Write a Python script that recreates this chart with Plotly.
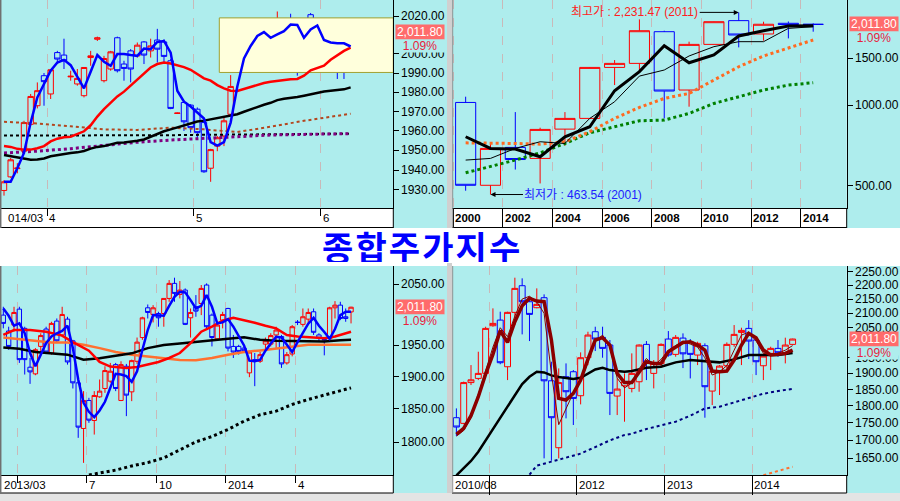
import math
import plotly.graph_objects as go

W, H = 900, 501
CYAN = '#AEEDED'
RED = '#FF0000'
BLUE = '#0000FF'
FONT = 'Liberation Sans, Arial, Noto Sans CJK KR, sans-serif'

# ---------------- Top-left: daily (2014/03 - 2014/06) ----------------
tl_open = [1929.6,1936.5,1940.7,1949.6,1963.4,1973.0,1988.6,1979.1,2000.7,1999.4,1988.0,1984.3,1978.2,1998.1,2007.7,1986.0,1992.1,2008.5,1994.7,2001.6,1999.0,2006.3,2001.6,2007.3,2006.3,1996.4,1969.0,1974.7,1973.3,1971.2,1964.3,1940.9,1952.2,1957.4,1968.6,1990.7,2008.0,2002.8,2013.7,2011.3,2002.8,2015.3,2013.7,2016.0,2015.0,1999.9,2020.7,2015.5,1998.7,2006.0,2006.8,2006.8,2001.1]
tl_high = [1934.8,1946.1,1943.5,1965.2,1979.1,1985.1,1990.0,1992.1,2001.6,2008.0,1991.2,1992.1,1992.9,2001.6,2009.1,1999.0,2001.6,2009.1,1996.4,2002.5,2006.0,2006.8,2008.0,2013.2,2007.7,1997.3,1969.5,1975.6,1973.8,1972.1,1965.2,1950.8,1957.4,1966.9,1988.9,2011.2,2016.0,2013.7,2016.0,2012.0,2009.4,2022.4,2017.7,2021.2,2015.5,2017.7,2021.6,2016.0,2003.3,2009.4,2007.3,2009.1,2012.0]
tl_low = [1927.0,1936.0,1938.3,1948.7,1962.6,1971.6,1973.0,1976.5,1994.7,1992.1,1986.0,1983.4,1977.3,1993.8,2006.8,1985.1,1991.2,1990.3,1986.0,1985.1,1998.1,1994.7,1998.1,1995.5,1995.5,1971.2,1968.8,1960.0,1959.1,1955.6,1938.6,1934.0,1949.6,1952.2,1967.8,1990.3,2006.8,1997.6,2012.9,2004.2,2001.6,2014.6,2012.9,1999.9,1988.6,1998.1,2009.4,1994.7,1995.5,1990.7,1986.9,1986.9,1996.4]
tl_close = [1934.0,1945.2,1941.0,1964.3,1977.8,1980.8,1985.5,1991.7,1997.3,1996.4,1988.3,1987.2,1992.9,1999.0,2008.5,1997.6,2001.1,1991.2,1992.4,1992.1,2004.6,1999.4,2004.2,2002.5,1998.7,1971.6,1969.2,1964.7,1961.7,1959.1,1939.1,1950.4,1956.5,1965.2,1983.0,2010.8,2010.3,2013.2,2015.5,2011.0,2008.5,2015.6,2017.2,2011.2,1997.3,2017.2,2011.2,1995.2,2002.5,2008.5,1995.5,1990.3,2011.8]
tl_ma5 = [1934.0,1934.0,1940.9,1948.7,1964.3,1977.3,1984.3,1991.2,1995.5,1996.9,1994.1,1987.7,1982.0,1990.7,1999.4,1995.9,1993.8,1999.9,1999.9,1999.4,1999.0,2002.8,2002.5,2006.3,2006.8,2000.7,1980.8,1975.1,1972.6,1969.5,1966.4,1954.2,1952.5,1954.2,1964.3,1983.0,1997.6,2004.2,2009.4,2011.5,2008.5,2010.3,2012.0,2015.5,2015.3,2008.5,2012.9,2015.0,2007.3,2006.0,2005.6,2005.6,2003.9]
tl_ma20 = [1952.2,1951.8,1950.8,1950.4,1950.4,1951.1,1952.2,1954.6,1956.0,1956.7,1957.0,1958.4,1959.8,1962.9,1967.4,1971.2,1974.7,1977.8,1980.3,1983.4,1986.9,1990.0,1992.9,1994.7,1995.5,1995.0,1994.1,1993.1,1991.7,1989.5,1987.2,1986.0,1983.7,1982.0,1980.8,1980.6,1981.7,1982.7,1983.7,1984.8,1985.5,1986.0,1986.3,1986.7,1986.9,1988.6,1991.4,1992.4,1993.8,1996.9,1999.4,2001.6,2003.3]
tl_ma60 = [1947.6,1947.0,1946.1,1945.6,1945.2,1945.4,1945.9,1947.0,1947.6,1948.2,1948.7,1949.0,1949.7,1950.9,1951.8,1952.2,1953.2,1953.9,1954.1,1954.4,1954.9,1955.6,1957.0,1958.8,1959.8,1960.8,1961.9,1962.9,1964.0,1964.8,1965.3,1966.0,1966.6,1967.1,1967.8,1968.6,1969.9,1971.2,1972.5,1973.5,1974.5,1975.9,1976.6,1977.0,1977.5,1978.2,1978.9,1979.9,1980.4,1980.8,1981.0,1981.5,1982.5]
tl_sparse_idx = [0,5,10,15,20,25,30,35,40,45,50,52]
tl_ma120 = [1957.6,1957.6,1957.7,1957.7,1957.8,1957.8,1958.0,1958.1,1958.3,1958.4,1958.5,1958.6]
tl_ma_brown = [1964.7,1963.8,1962.4,1960.8,1960.5,1961.7,1960.8,1959.4,1962.2,1965.2,1967.8,1968.9]
tl_ma_purple = [1948.7,1949.6,1950.9,1952.7,1954.2,1955.3,1956.1,1957.2,1957.9,1958.2,1958.5,1958.6]
tl_box_x = [32.3, 58.4]
tl_box_y = [1990.3, 2019.0]
tl_grid = [6.5, 28.5, 47.5]
tl_tick_labels = ['4', '5', '6']
tl_first_label = '014/03'
tl_yticks = [1930, 1940, 1950, 1960, 1970, 1980, 1990, 2000, 2020]

# ---------------- Top-right: yearly (2000 - 2014) ----------------
tr_years = list(range(2000, 2015))
tr_open = [1026, 502, 696, 633, 815, 894, 1388, 1437, 1889, 1142, 1693, 2078, 1852, 2031, 2013]
tr_high = [1078, 716, 944, 825, 944, 1392, 1479, 2101, 1905, 1733, 2062, 2231.47, 2059, 2063, 2030]
tr_low = [479, 463.54, 575, 510, 706, 890, 1192, 1337, 894, 989, 1690, 1650, 1748, 1783, 1889]
tr_close = [502, 690, 627, 813, 894, 1388, 1437, 1905, 1132, 1693, 2059, 1836, 2014, 2011, 2011.8]
tr_ma3 = [763, 690, 686, 642, 763, 832, 1135, 1338, 1674, 1445, 1545, 1820, 1905, 1984, 1990]
tr_ma5 = [624, 633, 690, 731, 720, 894, 1032, 1288, 1357, 1532, 1660, 1733, 1733, 1944, 1972]
tr_ma10 = [724, 724, 720, 716, 731, 797, 894, 983, 1062, 1109, 1245, 1396, 1532, 1636, 1758]
tr_ma20 = [559, 589, 624, 664, 720, 790, 832, 876, 881, 933, 1017, 1078, 1142, 1192, 1216]
tr_grid = [-0.5, 1.5, 3.5, 5.5, 7.5, 9.5, 11.5, 13.5]
tr_tick_labels = ['2000', '2002', '2004', '2006', '2008', '2010', '2012', '2014']
tr_yticks = [500, 1000, 1500]
tr_hi_i, tr_lo_i = 11, 1

# ---------------- Bottom-left: weekly (2013/03 - 2014/06) ----------------
bl_open = [1998.7,1972.7,1982.4,2008.6,1977.0,1914.7,1904.2,1947.8,1975.9,1937.2,
           1988.9,1966.3,1992.1,1956.8,1890.2,1820.4,1862.9,1832.4,1868.5,1881.4,
           1892.8,1918.8,1862.9,1916.2,1876.2,1924.1,1962.1,2010.8,1999.8,2001.4,
           2001.4,2026.4,2051.7,2033.1,2040.4,1994.3,2012.5,2018.0,2048.9,1998.7,
           1960.0,1990.5,2009.7,1947.8,1947.8,1945.1,1905.8,1926.7,1924.1,1951.5,
           1951.5,1966.3,1963.7,1921.5,1935.6,1987.2,1983.5,1992.1,2004.2,1966.3,
           1958.9,1960.0,2010.8,2015.2,1996.0,2004.0]
bl_high = [2012.5,1979.7,2012.5,2012.5,1979.7,1929.3,1945.1,1969.0,1979.7,1987.8,
           1993.2,2012.5,1996.0,1958.4,1892.8,1877.3,1867.0,1877.3,1895.4,1916.2,
           1921.5,1921.5,1924.1,1919.9,1926.7,1962.1,1996.0,2016.3,2015.2,2004.2,
           2026.4,2057.3,2061.3,2055.6,2043.2,2009.7,2032.0,2048.9,2051.7,2001.4,
           1985.1,2004.2,2010.8,1966.3,1950.4,1947.8,1940.9,1937.2,1938.8,1962.1,
           1969.0,1979.7,1966.3,1938.8,1982.4,1990.5,2009.7,2009.7,2009.7,1969.0,
           1961.0,2012.5,2021.9,2020.8,2009.7,2012.5]
bl_low = [1977.0,1942.5,1971.6,1921.5,1903.2,1888.6,1902.1,1938.8,1935.6,1934.6,
          1953.1,1963.7,1918.8,1881.4,1806.4,1769.5,1828.9,1811.3,1867.0,1874.7,
          1890.2,1877.3,1861.9,1839.0,1861.9,1919.9,1958.4,1993.2,1986.7,1979.7,
          1979.7,2020.8,2020.8,2026.4,1982.4,1962.1,1996.0,1998.7,1977.0,1947.8,
          1958.4,1977.0,1939.8,1929.3,1934.6,1937.2,1899.0,1885.0,1921.5,1939.8,
          1947.8,1945.1,1913.6,1918.8,1931.9,1982.4,1979.7,1982.4,1966.3,1955.7,
          1933.5,1956.8,1993.2,1990.5,1987.8,1985.1]
bl_close = [1985.1,1947.8,2003.1,1926.7,1926.7,1907.3,1942.5,1965.3,1938.8,1985.1,
            1956.8,1999.8,1923.0,1890.2,1822.4,1862.9,1832.9,1870.6,1877.3,1909.4,
            1908.4,1881.4,1918.8,1871.1,1925.1,1954.7,1994.3,2003.1,2010.8,1994.3,
            2026.4,2051.7,2034.8,2040.4,1983.5,2003.1,2005.3,2043.2,1979.7,1962.1,
            1982.4,1999.8,1945.1,1938.8,1939.8,1940.9,1938.8,1924.1,1934.6,1956.8,
            1965.3,1974.3,1919.9,1934.6,1979.7,1986.7,1996.0,2003.1,1970.6,1961.0,
            1958.4,2010.8,2015.2,1993.2,1993.2,2011.8]
bl_ma5 = [2009.7,1997.6,1981.3,1985.1,1969.0,1937.2,1916.2,1935.6,1953.1,1963.7,
          1969.0,1972.7,1981.3,1945.1,1895.4,1859.3,1845.6,1837.5,1847.6,1860.9,
          1883.5,1904.2,1903.2,1900.6,1891.7,1908.4,1942.5,1974.3,1998.7,1998.7,
          1997.6,2014.1,2029.2,2037.6,2036.5,2023.6,2009.7,2014.1,2032.0,2012.5,
          1985.1,1986.7,1992.1,1979.7,1965.3,1949.4,1925.1,1924.1,1926.2,1940.9,
          1952.6,1963.2,1962.1,1950.4,1938.8,1954.7,1970.0,1984.6,1994.3,1981.3,
          1971.1,1960.0,1975.9,1998.7,2004.2,2004.2]
bl_ma20_idx = [0,2,5,8,11,13,16,18,20,23,25,27,29,31,33,35,37,39,41,43,45,47,49,51,53,55,58,60,62,64,65]
bl_ma20 = [1966.3,1974.3,1974.3,1971.6,1965.3,1954.7,1940.9,1923.0,1915.7,1913.6,1915.2,1918.8,1923.0,1929.3,1937.2,1953.1,1971.6,1979.7,1989.4,1994.3,1990.5,1986.2,1981.3,1977.0,1966.3,1963.7,1962.1,1961.0,1963.7,1969.0,1971.6]
bl_ma_idx = [0,3,6,9,12,15,18,21,24,27,30,33,36,39,42,45,48,51,54,57,60,63,65]
bl_ma60 = [1946.2,1944.1,1938.8,1937.2,1934.6,1926.7,1928.8,1933.0,1936.7,1945.1,1949.9,1952.6,1954.7,1956.8,1960.0,1962.6,1958.4,1956.8,1956.8,1956.8,1955.7,1957.8,1958.4]
bl_ma40_idx = [0,3,6,9,12,15,18,21,24,27,30,33,36,39,42,45,48,51,54,57,60,65]
bl_ma40 = [1962.1,1959.4,1955.7,1954.2,1954.2,1950.4,1945.1,1938.8,1934.6,1931.4,1928.3,1926.2,1925.6,1929.3,1934.6,1938.8,1941.4,1944.6,1947.8,1950.4,1950.4,1950.4]
bl_ma120_idx = [16,18,21,24,27,30,33,36,39,42,45,48,51,54,57,60,63,65]
bl_ma120 = [1752.0,1754.6,1759.0,1765.0,1769.9,1776.8,1788.8,1800.4,1808.4,1818.9,1831.4,1841.1,1846.6,1856.8,1864.5,1871.1,1876.8,1882.4]
bl_grid = [2.6, 15.6, 28.7, 41.6, 54.7]
bl_tick_labels = ['7', '10', '2014', '4']
bl_first_label = '2013/03'
bl_yticks = [1800, 1850, 1900, 1950, 2050]

# ---------------- Bottom-right: monthly (2010/08 - 2014/06) ----------------
br_open = [1765.3,1748.8,1871.4,1884.4,1900.2,2056.8,2076.2,1921.3,2103.0,2198.2,
           2140.5,2119.3,2154.8,1876.9,1679.4,1889.6,1905.4,1831.0,1950.3,2036.4,
           2017.4,1991.8,1830.0,1861.6,1853.4,1874.0,1994.0,1900.2,1932.0,2011.8,
           1961.2,2015.0,2002.9,1959.0,1989.6,1845.2,1907.5,1924.5,1994.0,2034.1,
           2047.7,2008.5,1924.5,1964.5,1980.8,1964.5,1994.0]
br_high = [1792.8,1874.5,1926.6,1969.9,2053.4,2117.0,2105.3,2105.3,2227.7,2225.3,
           2152.4,2188.5,2166.8,1937.4,1916.0,1932.0,1910.7,1967.7,2036.4,2053.4,
           2053.4,2008.5,1884.4,1900.2,1964.5,1994.0,2005.1,1942.8,1997.4,2038.7,
           2025.2,2030.8,2011.8,2002.9,1997.4,1916.0,1926.6,2000.6,2059.1,2050.0,
           2076.2,2014.0,1964.5,1986.3,2008.5,2016.3,2013.0]
br_low = [1712.5,1746.1,1863.7,1879.2,1897.0,2053.4,1929.3,1879.2,2059.1,2027.4,
          2005.1,2117.0,1650.0,1643.7,1650.0,1763.3,1744.0,1804.8,1926.6,1972.1,
          1950.3,1773.1,1773.1,1753.6,1841.1,1843.2,1879.2,1853.4,1921.3,1953.6,
          1953.6,1917.0,1884.4,1926.6,1765.3,1802.8,1833.0,1916.0,1986.3,1926.6,
          1946.0,1894.9,1879.2,1910.7,1953.6,1932.0,1993.0]
br_close = [1738.2,1871.4,1880.0,1900.2,2047.7,2064.8,1934.2,2103.0,2188.5,2140.5,
            2095.9,2131.1,1876.9,1765.3,1871.4,1843.2,1822.8,1950.3,2025.2,2011.8,
            1980.8,1838.1,1851.4,1874.0,1900.2,1991.8,1935.3,1932.0,1994.0,1959.0,
            2017.4,1963.0,1961.2,1997.4,1858.6,1907.5,1923.4,1994.0,2027.4,2040.9,
            2005.1,1937.4,1955.7,1980.8,1966.6,1991.8,2011.8]
br_ma5 = [1717.1,1734.4,1771.1,1827.9,1898.0,1961.2,2039.8,2000.6,2070.5,2126.3,
          2152.4,2142.9,2140.5,2008.5,1822.8,1817.8,1838.1,1879.2,1946.0,2008.5,
          2016.3,1991.8,1900.2,1871.4,1871.4,1905.4,1937.4,1932.0,1932.0,1969.9,
          1986.3,2000.6,2002.9,1991.8,1975.3,1907.5,1905.4,1907.5,1942.8,1991.8,
          2030.8,2016.3,1975.3,1959.0,1961.2,1964.5,1975.3]
br_ma3 = [1712,1728,1765,1835,1915,1985,2050,2020,2090,2150,
          2160,2140,2100,1900,1745,1790,1840,1875,1935,2005,
          2025,1985,1885,1855,1870,1915,1948,1925,1945,1975,
          1990,2005,1995,1985,1950,1895,1905,1925,1975,2025,
          2035,2005,1965,1960,1965,1975,1990]
br_ma20_idx = list(range(25)) + [26,28,30,32,34,36,38,39,40,42,44,46]
br_ma20 = [1604.0,1622.7,1643.0,1668.4,1700.0,1732.5,1765.3,1797.8,1833.0,1866.8,1889.6,1905.4,1903.2,1893.8,1888.6,1886.5,1882.4,1886.5,1900.2,1912.8,1918.1,1910.7,1907.5,1905.4,1907.5,1918.1,1921.3,1935.3,1942.8,1939.6,1935.3,1945.0,1952.4,1959.0,1959.0,1959.0,1965.6]
br_ma60_idx = [10,11,13,15,17,19,21,23,24,26,28,30,32,34,36,38,40,42,44,46]
br_ma60 = [1606.0,1630.0,1641.0,1652.8,1663.0,1681.3,1700.0,1715.3,1719.0,1732.5,1742.1,1753.6,1771.1,1792.8,1797.8,1810.8,1822.8,1837.1,1845.2,1852.0]
br_ma120_idx = [42, 44, 46]
br_ma120 = [1604.5, 1615.7, 1627.0]
br_grid = [4.5, 16.5, 28.5, 40.5]
br_tick_labels = ['', '2012', '2013', '2014']
br_first_label = '2010/08'
br_yticks = [1650, 1700, 1750, 1800, 1850, 1900, 1950, 2050, 2100, 2150, 2200, 2250]

last_price = tl_close[-1]
change_pct = 1.09
title_text = '종합주가지수'


def px(x):
    return x / W


def py(y):
    return 1 - y / H


fig = go.Figure()


def candles(o, h, l, c, ax):
    return go.Candlestick(
        x=list(range(len(o))), open=o, high=h, low=l, close=c,
        xaxis='x' + ax, yaxis='y' + ax, whiskerwidth=0, showlegend=False,
        hoverinfo='skip',
        increasing=dict(line=dict(color=RED, width=1), fillcolor='rgba(0,0,0,0)'),
        decreasing=dict(line=dict(color=BLUE, width=1), fillcolor='rgba(0,0,0,0)'))


def line(x, y, ax, color, width, dash='solid'):
    return go.Scatter(x=x, y=y, mode='lines', xaxis='x' + ax, yaxis='y' + ax,
                      line=dict(color=color, width=width, dash=dash),
                      showlegend=False, hoverinfo='skip')


# TL
fig.add_trace(go.Scatter(
    x=[tl_box_x[0], tl_box_x[1], tl_box_x[1], tl_box_x[0], tl_box_x[0]],
    y=[tl_box_y[1], tl_box_y[1], tl_box_y[0], tl_box_y[0], tl_box_y[1]],
    mode='lines', fill='toself', fillcolor='#FFFFDC',
    line=dict(color='#A0A030', width=1), xaxis='x', yaxis='y',
    showlegend=False, hoverinfo='skip'))
n_tl = list(range(len(tl_close)))
fig.add_trace(line(tl_sparse_idx, tl_ma_brown, '', '#B4461E', 2, 'dot'))
fig.add_trace(line(tl_sparse_idx, tl_ma120, '', '#000000', 2, 'dot'))
fig.add_trace(line(tl_sparse_idx, tl_ma_purple, '', '#800080', 3, 'dot'))
fig.add_trace(candles(tl_open, tl_high, tl_low, tl_close, ''))
fig.add_trace(line(n_tl, tl_ma60, '', '#000000', 2.5))
fig.add_trace(line(n_tl, tl_ma20, '', RED, 2.5))
fig.add_trace(line(n_tl, tl_ma5, '', BLUE, 2.5))

# TR
n_tr = list(range(len(tr_years)))
fig.add_trace(line(n_tr, tr_ma20, '2', '#008000', 3, 'dot'))
fig.add_trace(line(n_tr, tr_ma10, '2', '#FF6A20', 3, 'dot'))
fig.add_trace(candles(tr_open, tr_high, tr_low, tr_close, '2'))
fig.add_trace(line(n_tr, tr_ma5, '2', '#000000', 1))
fig.add_trace(line(n_tr, tr_ma3, '2', '#000000', 3))

# BL
n_bl = list(range(len(bl_close)))
fig.add_trace(line(bl_ma120_idx, bl_ma120, '3', '#000000', 3, 'dot'))
fig.add_trace(candles(bl_open, bl_high, bl_low, bl_close, '3'))
fig.add_trace(line(bl_ma40_idx, bl_ma40, '3', '#FF7030', 2.5))
fig.add_trace(line(bl_ma_idx, bl_ma60, '3', '#000000', 2.5))
fig.add_trace(line(bl_ma20_idx, bl_ma20, '3', RED, 2.5))
fig.add_trace(line(n_bl, bl_ma5, '3', BLUE, 2.5))

# BR
n_br = list(range(len(br_close)))
fig.add_trace(line(br_ma120_idx, br_ma120, '4', '#FF7030', 2, 'dot'))
fig.add_trace(line(br_ma60_idx, br_ma60, '4', '#000080', 2, 'dot'))
fig.add_trace(candles(br_open, br_high, br_low, br_close, '4'))
fig.add_trace(line(br_ma20_idx, br_ma20, '4', '#000000', 2.5))
fig.add_trace(line(n_br, br_ma3, '4', '#8B0000', 1))
fig.add_trace(line(n_br, br_ma5, '4', '#8B0000', 3.5))


def xaxis(dom, rng, grid, ticklen, anchor):
    return dict(domain=dom, range=rng, anchor=anchor, tickmode='array', tickvals=grid,
                showticklabels=False, ticks='outside', ticklen=ticklen,
                tickcolor='#000000', showgrid=True, gridcolor='#C9B9B9',
                griddash='dash', gridwidth=1, showline=True, automargin=False,
                linecolor='#000000', linewidth=1, zeroline=False,
                rangeslider=dict(visible=False), fixedrange=True)


def yaxis(dom, vmin, vmax, ticks, anchor):
    return dict(domain=dom, type='log', range=[math.log10(vmin), math.log10(vmax)],
                side='right', anchor=anchor, tickmode='array', tickvals=ticks,
                showticklabels=False, ticks='outside', ticklen=5, automargin=False,
                tickcolor='#000000', showgrid=False,
                showline=True, linecolor='#000000', linewidth=1,
                zeroline=False, fixedrange=True)


top_dom = [py(208.3), 1]
bot_dom = [py(475), py(266)]
left_dom = [0, px(393.3)]
right_dom = [px(452), px(846.7)]

fig.update_layout(
    width=W, height=H, autosize=False,
    margin=dict(l=0, r=0, t=0, b=0, pad=0, autoexpand=False),
    paper_bgcolor='#FFFFFF', plot_bgcolor=CYAN,
    boxgap=0.1, boxgroupgap=0.1,
    xaxis=xaxis(left_dom, [-0.6, 58.4], tl_grid, 7, 'y'),
    yaxis=yaxis(top_dom, 1920.6, 2028.5, tl_yticks, 'x'),
    xaxis2=xaxis(right_dom, [-0.55, 15.35], tr_grid, 19, 'y2'),
    yaxis2=yaxis(top_dom, 411.6, 2483.0, tr_yticks, 'x2'),
    xaxis3=xaxis(left_dom, [-0.62, 72.9], bl_grid, 7, 'y3'),
    yaxis3=yaxis(bot_dom, 1751.9, 2081.3, bl_yticks, 'x3'),
    xaxis4=xaxis(right_dom, [-0.6, 53.4], br_grid, 19, 'y4'),
    yaxis4=yaxis(bot_dom, 1605.0, 2271.4, br_yticks, 'x4'),
    showlegend=False,
)

# ---------- background / frame shapes ----------
shapes = []


def rect(x0, y0, x1, y1, color, layer='below'):
    shapes.append(dict(type='rect', xref='paper', yref='paper', x0=px(x0), x1=px(x1),
                       y0=py(y1), y1=py(y0), fillcolor=color, line=dict(width=0), layer=layer))


def seg(x0, y0, x1, y1, color='#000000', width=1):
    shapes.append(dict(type='line', xref='paper', yref='paper', x0=px(x0), x1=px(x1),
                       y0=py(y0), y1=py(y1), line=dict(color=color, width=width), layer='above'))


rect(393.3, 0, 447, 228, CYAN)
rect(846.7, 0, 900, 228, CYAN)
rect(447, 0, 452, 228, '#D0D0D0')
rect(393.3, 266, 447, 493, CYAN)
rect(846.7, 266, 900, 493, CYAN)
rect(447, 263, 452, 501, '#D0D0D0')
rect(0, 493, 900, 501, '#E4E4E4')
for xr in (393.3, 846.7):
    seg(xr, 208, xr, 228)
    seg(xr, 475, xr, 493)
seg(0, 227.5, 393.3, 227.5)
seg(452, 227.5, 846.7, 227.5)
seg(0, 493, 393.3, 493)
seg(452, 493, 846.7, 493)
seg(0.7, 0, 0.7, 228, '#707070', 1.5)
seg(0.7, 266, 0.7, 493, '#707070', 1.5)
seg(452.7, 0, 452.7, 228, '#909090', 1)
seg(452.7, 266, 452.7, 493, '#909090', 1)
fig.update_layout(shapes=shapes)

# ---------- annotations ----------
ann = []
lab_font = dict(family=FONT, size=12, color='#000000')
xlab_font = dict(family=FONT, size=11.5, color='#000000')
row_top = py(218)
row_bot = py(484.5)


def xl(text, x, xref, y):
    ann.append(dict(text=text, x=x, xref=xref, y=y, yref='paper', xanchor='left',
                    yanchor='middle', showarrow=False, xshift=1, borderpad=0,
                    font=xlab_font))


xl(tl_first_label, px(6), 'paper', row_top)
for g, t in zip(tl_grid, tl_tick_labels):
    xl(t, g, 'x', row_top)
for g, t in zip(tr_grid, tr_tick_labels):
    xl('<b>' + t + '</b>', g, 'x2', row_top)
xl(bl_first_label, px(2), 'paper', row_bot)
for g, t in zip(bl_grid[1:], bl_tick_labels):
    xl(t, g, 'x3', row_bot)
xl(br_first_label, px(452.5), 'paper', row_bot)
for g, t in zip(br_grid[1:], br_tick_labels[1:]):
    xl(t, g, 'x4', row_bot)

# y tick labels (placed like the original: just right of the tick marks)
for k, ticks in (('', tl_yticks), ('2', tr_yticks), ('3', bl_yticks), ('4', br_yticks)):
    for v in ticks:
        ann.append(dict(text='%.2f' % v, xref='x%s domain' % k, yref='y' + k, x=1,
                        y=math.log10(v), xanchor='left', yanchor='middle', xshift=6,
                        showarrow=False, font=lab_font))

price_text = '{:,.2f}'.format(last_price)
pct_text = '{:.2f}%'.format(change_pct)
for k in ('', '2', '3', '4'):
    ann.append(dict(text=price_text, xref='x%s domain' % k, yref='y' + k, x=1,
                    y=math.log10(last_price), xanchor='left', yanchor='middle', xshift=2,
                    showarrow=False, bgcolor='#FF6B6B', width=48, height=14, borderpad=0,
                    font=dict(family=FONT, size=12, color='#FFFFFF')))
    ann.append(dict(text=pct_text, xref='x%s domain' % k, yref='y' + k, x=1,
                    y=math.log10(last_price), xanchor='left', yanchor='middle', xshift=2,
                    yshift=-14, showarrow=False, bgcolor=CYAN, width=48, height=12, borderpad=0,
                    font=dict(family=FONT, size=12, color='#E8203C')))

# high / low notes on yearly chart
ann.append(dict(text='최고가 : {:,.2f} ({})'.format(tr_high[tr_hi_i], tr_years[tr_hi_i]),
                x=tr_hi_i, y=math.log10(tr_high[tr_hi_i]), xref='x2', yref='y2',
                ax=-104, ay=0, showarrow=True, arrowhead=2, arrowsize=1, arrowwidth=1,
                arrowcolor='#000000', standoff=0,
                font=dict(family=FONT, size=12, color='#FF2020')))
ann.append(dict(text='최저가 : {:,.2f} ({})'.format(tr_low[tr_lo_i], tr_years[tr_lo_i]),
                x=tr_lo_i, y=math.log10(tr_low[tr_lo_i]), xref='x2', yref='y2',
                ax=93, ay=0, showarrow=True, arrowhead=2, arrowsize=1, arrowwidth=1,
                arrowcolor='#000000', standoff=0,
                font=dict(family=FONT, size=12, color='#2020FF')))

ann.append(dict(text='<b>' + '\u200a'.join(title_text) + '</b>', x=px(421), y=py(246),
                xref='paper', yref='paper', xanchor='center', yanchor='middle',
                showarrow=False, height=32, borderpad=0,
                font=dict(family='Noto Sans CJK KR', size=34, color='#0000FF')))
fig.update_layout(annotations=ann)

fig.write_html('out.html', config={'displayModeBar': False, 'staticPlot': True},
               post_script="document.body.style.margin='0px';"
                           "document.body.style.overflow='hidden';")
